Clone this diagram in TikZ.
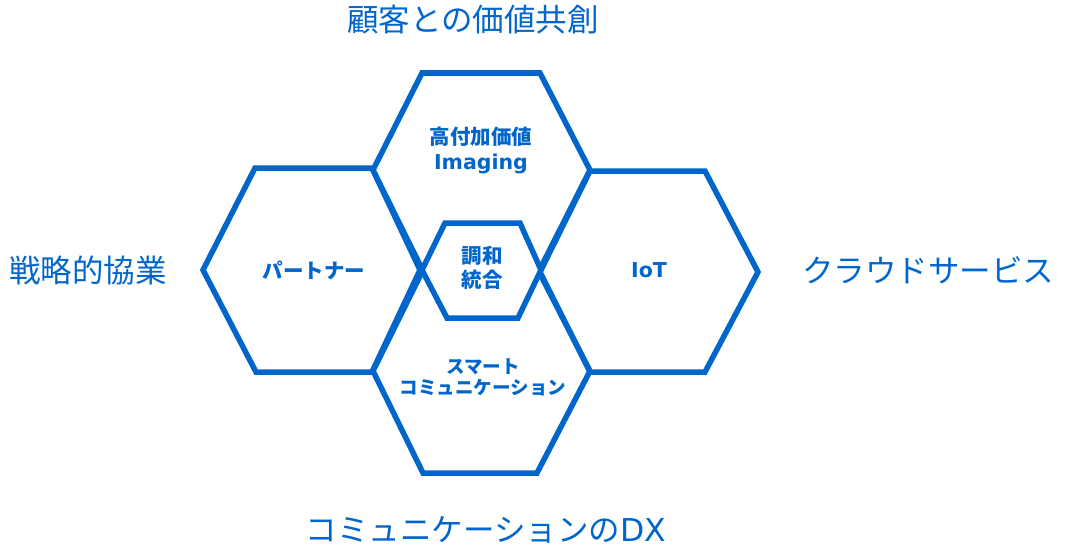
\documentclass[tikz,border=0pt]{standalone}
\usepackage{fontspec}
\setmainfont{Noto Sans CJK JP}
\newfontfamily\latinfont{DejaVu Sans}
\definecolor{hexblue}{RGB}{0,102,204}
\begin{document}
\begin{tikzpicture}[x=1pt,y=-1pt,
  hexline/.style={draw=hexblue,line width=5.5pt,line join=miter},
  outerlabel/.style={text=hexblue,font=\fontsize{31.5}{38}\selectfont},
  innerlabel/.style={text=hexblue,font=\fontsize{20.5}{24}\selectfont\bfseries,align=center}]
\useasboundingbox (0,0) rectangle (1065,551);

\draw[hexline] (255,168) -- (372,168) -- (420,270) -- (372,372) -- (256,372) -- (203,270) -- cycle;
\draw[hexline] (422,73) -- (540,73) -- (590,170) -- (540,269) -- (422,269) -- (373,170) -- cycle;
\draw[hexline] (590,171) -- (705,171) -- (758,272) -- (705,372) -- (590,372) -- (540,272) -- cycle;
\draw[hexline] (423,270) -- (538,270) -- (590,371) -- (537,473) -- (423,473) -- (373,371) -- cycle;
\draw[hexline,fill=white] (445,223) -- (520,223) -- (541,270) -- (518,318) -- (447,318) -- (422,270) -- cycle;

\node[outerlabel] (kyoso) at (473,20) {顧客との価値共創};
\node[outerlabel] (kyogyo) at (88,270) {戦略的協業};
\node[outerlabel] (cloud) at (928,270) {クラウドサービス};
\node[outerlabel] (dx) at (486,530) {コミュニケーションの{\latinfont DX}};

\node[innerlabel] (kofuka) at (481,150) {高付加価値\\[1pt]{\latinfont\bfseries Imaging}};
\node[innerlabel] (partner) at (314,270) {パートナー};
\node[innerlabel] (iot) at (649,270) {\latinfont\bfseries IoT};
\node[innerlabel] (chowa) at (482,268) {調和\\統合};
\node[innerlabel,font=\fontsize{18.5}{21}\selectfont\bfseries] (smart) at (483,377) {スマート\\コミュニケーション};
\end{tikzpicture}
\end{document}
